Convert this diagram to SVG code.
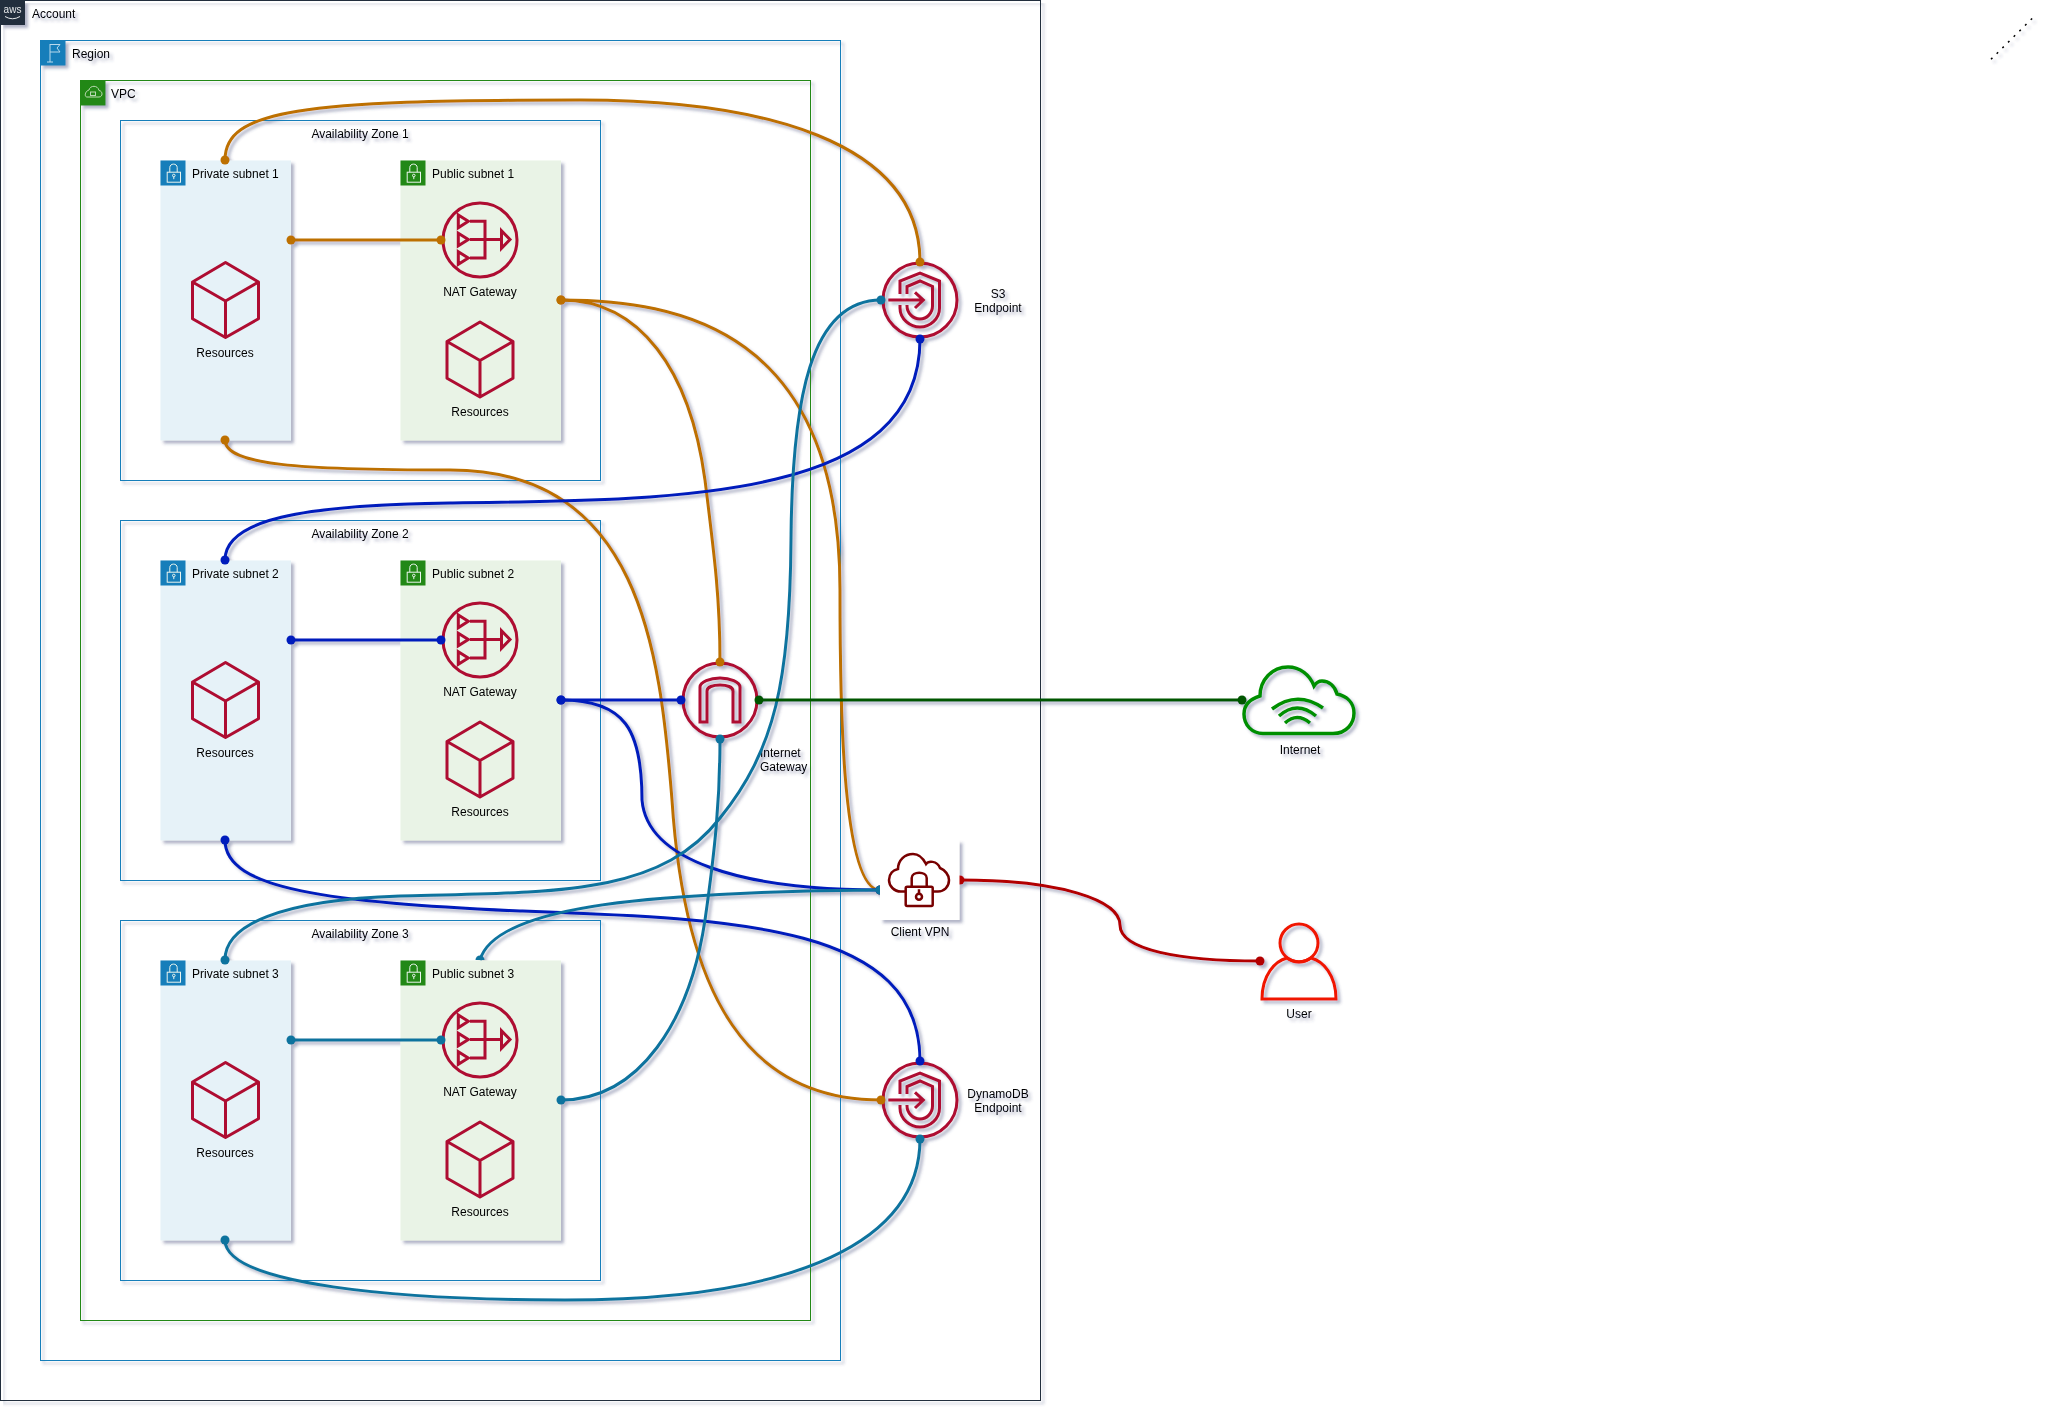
<svg xmlns="http://www.w3.org/2000/svg" xmlns:xlink="http://www.w3.org/1999/xlink" width="2055" height="1412" viewBox="0 0 2055 1412">
<style>
text{font-family:"Liberation Sans",Arial,sans-serif;font-size:12px;fill:#000}
.m{text-anchor:middle}
.frame{fill:none;stroke-width:1}
.az{fill:none;stroke:#147EBA}
.priv{fill:#E6F2F8}
.pub{fill:#E9F3E6}
.ic{fill:none;stroke:#AE0B30;stroke-width:3}
.c{fill:none;stroke-width:3}
.or{stroke:#BD7000;marker-start:url(#dOr);marker-end:url(#dOr)}
.bl{stroke:#001DBC;marker-start:url(#dBl);marker-end:url(#dBl)}
.te{stroke:#10739E;marker-start:url(#dTe);marker-end:url(#dTe)}
.gr{stroke:#005700;marker-start:url(#dGr);marker-end:url(#dGr)}
.re{stroke:#B20000;marker-start:url(#dRe);marker-end:url(#dRe)}
</style>
<defs>
<filter id="dropShadow" filterUnits="userSpaceOnUse" x="0" y="0" width="2055" height="1412">
<feGaussianBlur in="SourceAlpha" stdDeviation="1.7" result="blur"/>
<feOffset in="blur" dx="3" dy="3" result="offsetBlur"/>
<feFlood flood-color="#3D4574" flood-opacity="0.4" result="offsetColor"/>
<feComposite in="offsetColor" in2="offsetBlur" operator="in" result="offsetBlur2"/>
<feBlend in="SourceGraphic" in2="offsetBlur2"/>
</filter>
<marker id="dOr" markerUnits="userSpaceOnUse" markerWidth="10" markerHeight="10" viewBox="0 0 10 10" refX="5" refY="5"><circle cx="5" cy="5" r="4.5" fill="#BD7000"/></marker>
<marker id="dBl" markerUnits="userSpaceOnUse" markerWidth="10" markerHeight="10" viewBox="0 0 10 10" refX="5" refY="5"><circle cx="5" cy="5" r="4.5" fill="#001DBC"/></marker>
<marker id="dTe" markerUnits="userSpaceOnUse" markerWidth="10" markerHeight="10" viewBox="0 0 10 10" refX="5" refY="5"><circle cx="5" cy="5" r="4.5" fill="#10739E"/></marker>
<marker id="dTh" markerUnits="userSpaceOnUse" markerWidth="10" markerHeight="5" viewBox="0 0 10 5" refX="5" refY="5"><circle cx="5" cy="5" r="4.5" fill="#10739E"/></marker>
<marker id="dGr" markerUnits="userSpaceOnUse" markerWidth="10" markerHeight="10" viewBox="0 0 10 10" refX="5" refY="5"><circle cx="5" cy="5" r="4.5" fill="#005700"/></marker>
<marker id="dRe" markerUnits="userSpaceOnUse" markerWidth="10" markerHeight="10" viewBox="0 0 10 10" refX="5" refY="5"><circle cx="5" cy="5" r="4.5" fill="#B20000"/></marker>
<g id="cube" class="ic"><path d="M0-37.500 33-18V18.700L0 37.500-33 18.700V-18ZM-33-18 0 1 33-18M0 1V37.500" stroke-linejoin="round"/></g>
<g id="nat" class="ic"><circle r="37"/><path d="M-21.700-25-11.700-18.700-21.700-12.300ZM-21.700-6.700-11.700-.5-21.700 5.700ZM-21.700 11.700-11.700 18-21.700 24.300ZM-10-18.700H5V18H-10M-10-.5H21"/><path d="M21.500-9.300 30-.5 21.500 8.300Z"/></g>
<g id="endpoint" class="ic"><circle r="37"/><path d="M-20-6V-19L0-27 19.500-19V8C19.500 19 10 27 0 27S-20 19-20 8V5"/><path d="M-13-6V-13.500L0-19 12.500-13.500V6C12.500 13 7 19 0 19S-13 13-13 6V5"/><path d="M-31.700 0H3.300M-5-7.700 3.300 0-5 8"/></g>
<g id="subLock" fill="none" stroke="#EAF4EE" stroke-width="1"><rect x="6.700" y="11.700" width="13.300" height="10"/><path d="M9.300 11.700V7C9.300 2.500 16.700 2.500 16.700 7V11.700"/><circle cx="13.300" cy="15" r="1.300"/><path d="M13.300 16.300V18.700"/></g>
</defs>
<rect width="2055" height="1412" fill="#fff"/>
<g filter="url(#dropShadow)">
<g id="account">
<rect class="frame" x="0.500" y="0.500" width="1040" height="1400" stroke="#232F3E"/>
<rect width="25" height="25" fill="#232F3E"/>
<text x="12.500" y="13" class="m" style="font-size:10px;fill:#E6E8EA">aws</text>
<path d="M5 16.500Q12.500 21 20 16.500" fill="none" stroke="#E6E8EA"/>
<text x="32" y="18">Account</text>
</g>
<g id="region">
<rect class="frame" x="40.500" y="40.500" width="800" height="1320" stroke="#147EBA"/>
<rect x="40.500" y="40.500" width="25" height="25" fill="#147EBA"/>
<path d="M50 44V62M47 62H53M50 44.500H60L57 48 60 52H50" fill="none" stroke="#B9D9EC"/>
<text x="72" y="58">Region</text>
</g>
<g id="vpc">
<rect class="frame" x="80.500" y="80.500" width="730" height="1240" stroke="#248814"/>
<rect x="80.500" y="80.500" width="25" height="25" fill="#248814"/>
<path d="M87 97H99C103 97 103 91 99 90.500C98 85 90 85 89 90 85 91 84 97 87 97Z" fill="none" stroke="#B9D9B4"/>
<rect x="90.500" y="92" width="5" height="3.500" fill="none" stroke="#B9D9B4"/>
<text x="111" y="98">VPC</text>
</g>
<g id="az1"><rect class="frame az" x="120.500" y="120.500" width="480" height="360"/><text x="360" y="138" class="m">Availability Zone 1</text></g>
<g id="az2"><rect class="frame az" x="120.500" y="520.500" width="480" height="360"/><text x="360" y="538" class="m">Availability Zone 2</text></g>
<g id="az3"><rect class="frame az" x="120.500" y="920.500" width="480" height="360"/><text x="360" y="938" class="m">Availability Zone 3</text></g>

<g id="private-subnet-1"><rect class="priv" x="160.500" y="160.500" width="130.500" height="280"/><rect x="160.500" y="160.500" width="25" height="25" fill="#147EBA"/><use href="#subLock" x="160.500" y="160.500"/><text x="192" y="178">Private subnet 1</text>
<use href="#cube" x="225.500" y="300"/><text x="225" y="357" class="m">Resources</text></g>
<g id="public-subnet-1"><rect class="pub" x="400.500" y="160.500" width="160.500" height="280"/><rect x="400.500" y="160.500" width="25" height="25" fill="#248814"/><use href="#subLock" x="400.500" y="160.500"/><text x="432" y="178">Public subnet 1</text>
<use href="#nat" x="480" y="240"/><text x="480" y="296" class="m">NAT Gateway</text>
<use href="#cube" x="480" y="359.500"/><text x="480" y="416" class="m">Resources</text></g>

<g id="private-subnet-2"><rect class="priv" x="160.500" y="560.500" width="130.500" height="280"/><rect x="160.500" y="560.500" width="25" height="25" fill="#147EBA"/><use href="#subLock" x="160.500" y="560.500"/><text x="192" y="578">Private subnet 2</text>
<use href="#cube" x="225.500" y="700"/><text x="225" y="757" class="m">Resources</text></g>
<g id="public-subnet-2"><rect class="pub" x="400.500" y="560.500" width="160.500" height="280"/><rect x="400.500" y="560.500" width="25" height="25" fill="#248814"/><use href="#subLock" x="400.500" y="560.500"/><text x="432" y="578">Public subnet 2</text>
<use href="#nat" x="480" y="640"/><text x="480" y="696" class="m">NAT Gateway</text>
<use href="#cube" x="480" y="759.500"/><text x="480" y="816" class="m">Resources</text></g>

<g id="private-subnet-3"><rect class="priv" x="160.500" y="960.500" width="130.500" height="280"/><rect x="160.500" y="960.500" width="25" height="25" fill="#147EBA"/><use href="#subLock" x="160.500" y="960.500"/><text x="192" y="978">Private subnet 3</text>
<use href="#cube" x="225.500" y="1100"/><text x="225" y="1157" class="m">Resources</text></g>
<g id="public-subnet-3"><rect class="pub" x="400.500" y="960.500" width="160.500" height="280"/><rect x="400.500" y="960.500" width="25" height="25" fill="#248814"/><use href="#subLock" x="400.500" y="960.500"/><text x="432" y="978">Public subnet 3</text>
<use href="#nat" x="480" y="1040"/><text x="480" y="1096" class="m">NAT Gateway</text>
<use href="#cube" x="480" y="1159.500"/><text x="480" y="1216" class="m">Resources</text></g>

<g id="s3-endpoint"><use href="#endpoint" x="920" y="300"/><text x="998" y="298" class="m">S3</text><text x="998" y="312" class="m">Endpoint</text></g>
<g id="dynamodb-endpoint"><use href="#endpoint" x="920" y="1100"/><text x="998" y="1098" class="m">DynamoDB</text><text x="998" y="1112" class="m">Endpoint</text></g>
<g id="internet-gateway"><g class="ic"><circle cx="720" cy="700" r="37"/><path transform="translate(720 700)" d="M-20 22V-13C-20-18-10-22 0-22S20-18 20-13V22H13V-9C13-13 7-15 0-15S-13-13-13-9V22Z"/></g>
<text x="760" y="757">Internet</text><text x="760" y="771">Gateway</text></g>
<g id="internet"><path d="M1263 733.500H1333C1347 733.500 1354 723 1354 713 1354 702 1346 696 1337 694 1335 686 1329 681 1322 681 1319 681 1316 683 1314 686 1310 675 1300 667 1288 667 1272 667 1260 680 1260 696 1250 699 1244 705 1244 714 1244 725 1252 733.500 1263 733.500Z" fill="none" stroke="#008F00" stroke-width="3.500"/>
<path d="M1272 709Q1297 690 1323 708M1279 716Q1297 700 1316 716M1285 723Q1297 712 1310 723" fill="none" stroke="#008F00" stroke-width="3.500"/>
<text x="1300" y="754" class="m">Internet</text></g>
<g id="user"><ellipse cx="1299" cy="943" rx="19" ry="19" fill="none" stroke="#F01800" stroke-width="3"/>
<path d="M1262 999C1262 975 1275 961 1287 958 1294 963 1304 963 1311 958 1323 961 1336 975 1336 999Z" fill="none" stroke="#F01800" stroke-width="3"/>
<text x="1299" y="1018" class="m">User</text></g>
<path id="dotted-line" d="M1991 59.300 2036.300 14.300" fill="none" stroke="#000" stroke-width="1.500" stroke-dasharray="2 6"/>

<g id="connectors">
<path class="c or" d="M225 160C225 110 300 100 580 100 760 100 920 140 920 262"/>
<path class="c or" d="M291 240H441"/>
<path class="c or" d="M561 300C640 300 690 370 705 480 715 560 720 600 720 662"/>
<path class="c or" d="M561 300C680 300 840 330 840 590 840 680 840 890 880 890"/>
<path class="c or" d="M225 440C225 465 300 470 450 470 640 470 660 650 672 800 685 1000 750 1100 881 1100"/>
<path class="c bl" d="M225 560C225 520 300 505 450 503 680 500 920 500 920 339"/>
<path class="c bl" d="M291 640H441"/>
<path class="c bl" d="M561 700H681"/>
<path class="c bl" d="M561 700C625 700 642 730 642 800 647 860 740 890 880 890"/>
<path class="c bl" d="M225 840C225 890 330 902 520 911 740 919 920 925 920 1061"/>
<path class="c te" d="M225 960C225 925 280 900 400 896 560 892 660 895 720 818 775 750 790 680 791 540 792 400 810 300 881 300"/>
<path class="c te" style="marker-start:url(#dTh)" d="M480 960C490 925 560 905 680 897 750 892 800 890 880 890"/>
<path class="c te" d="M291 1040H441"/>
<path class="c te" d="M561 1100C640 1100 690 1020 705 920 715 850 720 800 720 739"/>
<path class="c te" d="M225 1240C225 1285 400 1300 565 1300 800 1300 920 1240 920 1139"/>
<path class="c gr" d="M759 700H1242"/>
<path class="c re" d="M960 880C1060 880 1120 900 1120 925 1120 950 1180 961 1260 961"/>
</g>

<g id="client-vpn"><rect x="880" y="840" width="79.500" height="80" fill="#fff"/>
<path d="M905 891.500H901C894 891.500 889 886 889 880 889 874 893 870 898 869 898 860 905 854 913 854 919 854 923 858 926 864 928 861 937 860 940 868 945 870 949 875 949 880 949 887 944 891.500 938 891.500H933" fill="none" stroke="#780000" stroke-width="2.500"/>
<rect x="905.700" y="886.700" width="27" height="19.300" rx="1.500" fill="none" stroke="#780000" stroke-width="2.500"/>
<path d="M911.700 886.700V878C911.700 871 926.700 871 926.700 878V886.700M919 889.300V893.500" fill="none" stroke="#780000" stroke-width="2.500"/>
<circle cx="919" cy="896.700" r="3" fill="none" stroke="#780000" stroke-width="2.500"/>
<text x="920" y="935.500" class="m">Client VPN</text></g>
</g>
</svg>
